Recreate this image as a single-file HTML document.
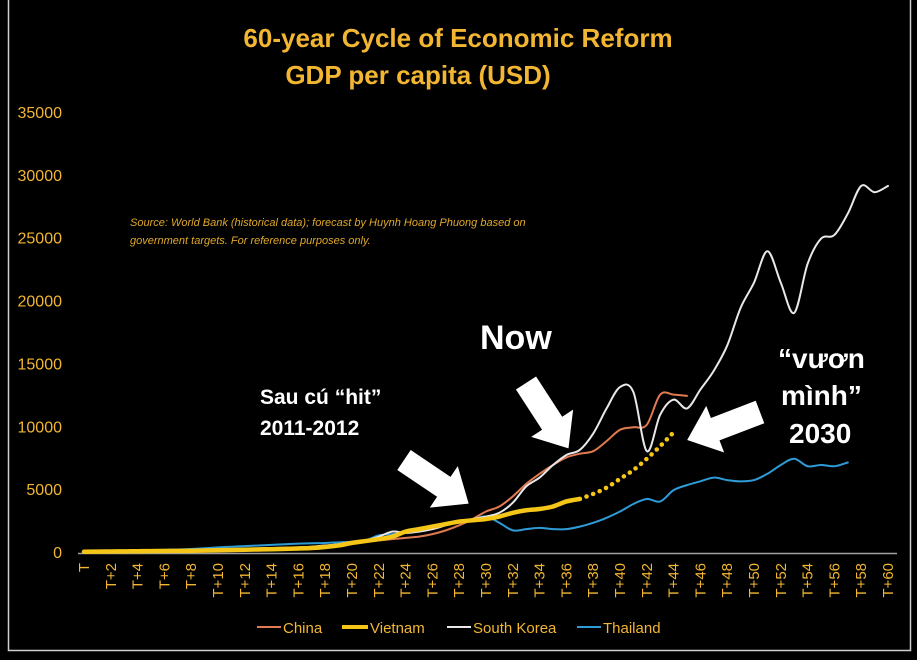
<!DOCTYPE html>
<html><head><meta charset="utf-8"><style>
html,body{margin:0;padding:0;background:#000;width:917px;height:660px;overflow:hidden}
svg{display:block}
</style></head><body>
<svg id="chart" width="917" height="660" xmlns="http://www.w3.org/2000/svg" font-family="'Liberation Sans', sans-serif">
<rect x="0" y="0" width="917" height="660" fill="#000"/>
<path d="M8.5,0 V650.5 H910.5 V0" fill="none" stroke="#cfcfcf" stroke-width="1.5"/>
<text x="458" y="47" text-anchor="middle" fill="#f2b632" font-size="26" font-weight="bold">60-year Cycle of Economic Reform</text>
<text x="418" y="84" text-anchor="middle" fill="#f2b632" font-size="26" font-weight="bold">GDP per capita (USD)</text>
<text x="130" y="226" fill="#e0a82a" font-size="11" font-style="italic">Source: World Bank (historical data); forecast by Huynh Hoang Phuong based on</text>
<text x="130" y="244" fill="#e0a82a" font-size="11" font-style="italic">government targets. For reference purposes only.</text>
<g id="yaxis"></g>
<g id="xaxis"></g>
<line x1="78" y1="553.5" x2="897" y2="553.5" stroke="#a0a0a0" stroke-width="1.5"/>
<g id="series"></g>
<g fill="#fff" font-weight="bold" font-family="'Liberation Sans', sans-serif">
<text x="260" y="404" font-size="21">Sau cú “hit”</text>
<text x="260" y="435" font-size="21">2011-2012</text>
<text x="480" y="349" font-size="34">Now</text>
<text x="778" y="368" font-size="28">“vươn</text>
<text x="781" y="405" font-size="28">mình”</text>
<text x="789" y="443" font-size="28">2030</text>
<polygon points="0,-12 48,-12 48,-25 78,0 48,25 48,12 0,12" transform="translate(404,460) rotate(34)"/>
<polygon points="0,-12 48,-12 48,-25 78,0 48,25 48,12 0,12" transform="translate(526,383) rotate(57)"/>
<polygon points="0,-12 48,-12 48,-25 78,0 48,25 48,12 0,12" transform="translate(760,412) rotate(159)"/>
</g>
<g id="legend" font-size="15" fill="#f2b632">
<line x1="257" y1="627" x2="281" y2="627" stroke="#e07a50" stroke-width="2"/>
<text x="283" y="633">China</text>
<line x1="342" y1="627" x2="368" y2="627" stroke="#f5c518" stroke-width="4"/>
<text x="370" y="633">Vietnam</text>
<line x1="447" y1="627" x2="471" y2="627" stroke="#e8e8e8" stroke-width="2"/>
<text x="473" y="633">South Korea</text>
<line x1="577" y1="627" x2="601" y2="627" stroke="#2e9bd6" stroke-width="2"/>
<text x="603" y="633">Thailand</text>
</g>
</svg>
<script>
const yTicks = [0,5000,10000,15000,20000,25000,30000,35000];
const categories = Array.from({length:61},(_,i)=> i===0 ? 'T' : 'T+'+i);
const korea = [100,110,120,130,140,150,170,190,220,250,280,300,330,370,400,420,450,500,600,700,900,1000,1300,1700,1600,1700,1900,2200,2500,2700,2900,3200,4000,5300,6000,7000,7800,8200,9500,11500,13200,12800,8100,11000,12200,11500,13000,14500,16500,19500,21500,24000,21500,19100,23000,25000,25300,27000,29200,28700,29200];
const china = [150,150,160,170,180,190,200,210,220,240,260,280,300,320,340,360,400,450,500,650,800,900,1000,1100,1200,1300,1500,1800,2200,2700,3300,3700,4500,5500,6300,7000,7600,7900,8100,8900,9800,10000,10200,12600,12600,12500];
const vietnam = [100,110,120,130,140,150,160,170,180,200,220,240,260,280,300,330,360,400,480,600,800,950,1100,1300,1700,1900,2100,2300,2500,2600,2700,2900,3200,3400,3500,3700,4100,4300];
const vietnamForecast = [null,null,null,null,null,null,null,null,null,null,null,null,null,null,null,null,null,null,null,null,null,null,null,null,null,null,null,null,null,null,null,null,null,null,null,null,null,4300,4700,5200,5900,6600,7500,8500,9600];
const thailand = [150,160,170,180,200,220,250,280,320,380,450,500,550,600,650,700,750,780,800,850,900,1000,1400,1500,1600,1800,2100,2300,2500,2700,2900,2400,1800,1900,2000,1900,1900,2100,2400,2800,3300,3900,4300,4100,5000,5400,5700,6000,5800,5700,5800,6300,7000,7500,6900,7000,6900,7200];

const X0=84, XSTEP=13.4, Y0=553, YSCALE=(553-113)/35000;
const xs = i => X0 + i*XSTEP;
const ys = v => Y0 - v*YSCALE;
const NS='http://www.w3.org/2000/svg';
const yg=document.getElementById('yaxis'), xg=document.getElementById('xaxis'), sg=document.getElementById('series');

yTicks.forEach(v=>{
  const t=document.createElementNS(NS,'text');
  
  
  t.setAttribute('x',62); t.setAttribute('y',ys(v)+5);
  t.setAttribute('text-anchor','end'); t.setAttribute('fill','#f2b632'); t.setAttribute('font-size','16');
  t.textContent=v; yg.appendChild(t);
});
categories.forEach((c,i)=>{
  if(i%2) return;
  const t=document.createElementNS(NS,'text');
  
  
  const x=xs(i)+5, y=563;
  t.setAttribute('transform',`translate(${x},${y}) rotate(-90)`);
  t.setAttribute('text-anchor','end'); t.setAttribute('fill','#f2b632'); t.setAttribute('font-size','15');
  t.textContent=c; xg.appendChild(t);
});

function smoothPath(arr){
  const pts=[]; arr.forEach((v,i)=>{ if(v!==null&&v!==undefined) pts.push([xs(i),ys(v)]); });
  let d='M'+pts[0][0]+','+pts[0][1];
  for(let i=0;i<pts.length-1;i++){
    const p0=pts[i-1]||pts[i], p1=pts[i], p2=pts[i+1], p3=pts[i+2]||p2, k=1/6;
    d+=` C${p1[0]+(p2[0]-p0[0])*k},${p1[1]+(p2[1]-p0[1])*k} ${p2[0]-(p3[0]-p1[0])*k},${p2[1]-(p3[1]-p1[1])*k} ${p2[0]},${p2[1]}`;
  }
  return d;
}
function addLine(arr,color,w,name,dash){
  const p=document.createElementNS(NS,'path');
  
  
  p.setAttribute('d',smoothPath(arr)); p.setAttribute('fill','none');
  p.setAttribute('stroke',color); p.setAttribute('stroke-width',w);
  p.setAttribute('stroke-linejoin','round'); p.setAttribute('stroke-linecap','round');
  if(dash) p.setAttribute('stroke-dasharray',dash);
  sg.appendChild(p);
}
addLine(thailand,'#2e9bd6',2,'thailand-line');
addLine(china,'#e07a50',2,'china-line');
addLine(korea,'#e8e8e8',2,'south-korea-line');
addLine(vietnam,'#f5c518',4.5,'vietnam-line');
addLine(vietnamForecast,'#f5c518',4.5,'vietnam-forecast-line','0.1 7');
</script>
</body></html>
